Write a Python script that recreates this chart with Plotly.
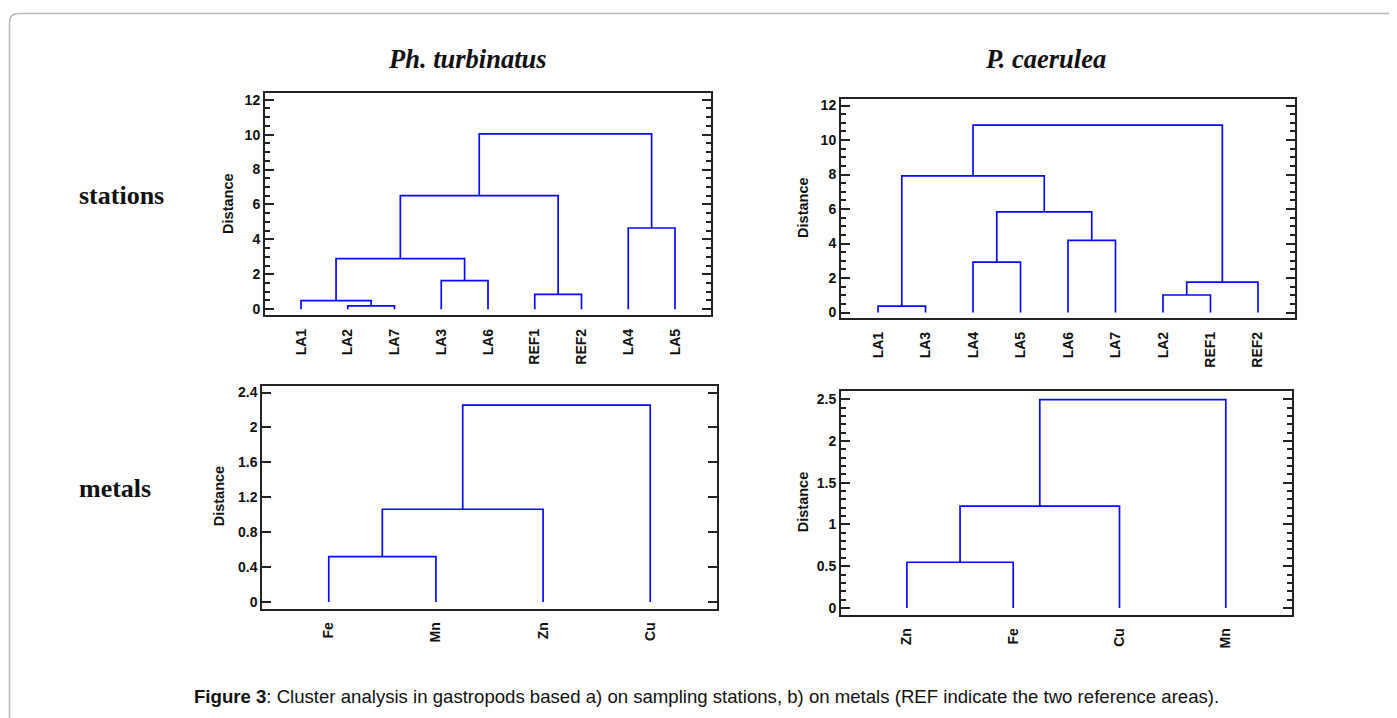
import plotly.graph_objects as go

W, H = 1397, 718
OFF = 8  # default page body margin of the html page

# ---------------- data ----------------
# Panel a) stations, Ph. turbinatus
st_turb_leaves = ["LA1", "LA2", "LA7", "LA3", "LA6", "REF1", "REF2", "LA4", "LA5"]
st_turb_left = ["LA2", "LA1", "LA3", "m1", "REF1", "m3", "LA4", "m5"]
st_turb_right = ["LA7", "m0", "LA6", "m2", "REF2", "m4", "LA5", "m6"]
st_turb_height = [0.19, 0.49, 1.63, 2.90, 0.85, 6.51, 4.65, 10.04]

# Panel a) stations, P. caerulea
st_caer_leaves = ["LA1", "LA3", "LA4", "LA5", "LA6", "LA7", "LA2", "REF1", "REF2"]
st_caer_left = ["LA1", "LA4", "LA6", "m1", "m0", "LA2", "m5", "m4"]
st_caer_right = ["LA3", "LA5", "LA7", "m2", "m3", "REF1", "REF2", "m6"]
st_caer_height = [0.38, 2.92, 4.19, 5.84, 7.93, 1.02, 1.77, 10.87]

# Panel b) metals, Ph. turbinatus
mt_turb_leaves = ["Fe", "Mn", "Zn", "Cu"]
mt_turb_left = ["Fe", "m0", "m1"]
mt_turb_right = ["Mn", "Zn", "Cu"]
mt_turb_height = [0.52, 1.063, 2.256]

# Panel b) metals, P. caerulea
mt_caer_leaves = ["Zn", "Fe", "Cu", "Mn"]
mt_caer_left = ["Zn", "m0", "m1"]
mt_caer_right = ["Fe", "Cu", "Mn"]
mt_caer_height = [0.547, 1.22, 2.496]

species = ["Ph. turbinatus", "P. caerulea"]
rows = ["stations", "metals"]
caption_bold = "Figure 3"
caption_rest = ": Cluster analysis in gastropods based a) on sampling stations, b) on metals (REF indicate the two reference areas)."


def dendro_xy(leaves, left, right, height):
    pos = {name: (float(i), 0.0) for i, name in enumerate(leaves)}
    xs, ys = [], []
    for k, (a, b, h) in enumerate(zip(left, right, height)):
        xa, ya = pos[a]
        xb, yb = pos[b]
        xs += [xa, xa, xb, xb, None]
        ys += [ya, h, h, yb, None]
        pos["m%d" % k] = ((xa + xb) / 2.0, h)
    return xs, ys


def px_x(p):
    return (p - OFF) / W


def px_y(p):
    return 1 - (p - OFF) / H


panels = [
    dict(leaves=st_turb_leaves, left=st_turb_left, right=st_turb_right, h=st_turb_height,
         box=(265, 711, 91.7, 315), yr=[-0.35, 12.37], dtick=2, minor=0.5,
         xr=[-0.77, 8.77], lab=(228, 203)),
    dict(leaves=st_caer_leaves, left=st_caer_left, right=st_caer_right, h=st_caer_height,
         box=(841, 1295, 97.7, 318), yr=[-0.33, 12.37], dtick=2, minor=0.5,
         xr=[-0.78, 8.78], lab=(803, 207)),
    dict(leaves=mt_turb_leaves, left=mt_turb_left, right=mt_turb_right, h=mt_turb_height,
         box=(262.3, 716.7, 385.7, 610), yr=[-0.076, 2.48], dtick=0.4, minor=None,
         xr=[-0.62, 3.62], lab=(219, 497)),
    dict(leaves=mt_caer_leaves, left=mt_caer_left, right=mt_caer_right, h=mt_caer_height,
         box=(841, 1291.7, 391, 616), yr=[-0.08, 2.6], dtick=0.5, minor=0.1,
         xr=[-0.62, 3.62], lab=(803, 503)),
]

fig = go.Figure()
sans = "Arial, Liberation Sans, sans-serif"
tickfont = dict(family=sans, size=14, color="#111", weight="bold")
frame = "#222"
annotations = []

for i, p in enumerate(panels, start=1):
    xs, ys = dendro_xy(p["leaves"], p["left"], p["right"], p["h"])
    xa = "x" if i == 1 else "x%d" % i
    ya = "y" if i == 1 else "y%d" % i
    fig.add_trace(go.Scatter(x=xs, y=ys, mode="lines", xaxis=xa, yaxis=ya,
                             line=dict(color="#0a0aff", width=1.7),
                             hoverinfo="skip", showlegend=False))
    x0, x1, y0, y1 = p["box"]
    xkey = "xaxis" if i == 1 else "xaxis%d" % i
    ykey = "yaxis" if i == 1 else "yaxis%d" % i
    fig.layout[xkey] = dict(
        domain=[px_x(x0), px_x(x1)], range=p["xr"], anchor=ya,
        tickmode="array", tickvals=list(range(len(p["leaves"]))), ticktext=p["leaves"],
        tickangle=-90, ticks="", showline=True, mirror=True, linecolor=frame, linewidth=2,
        showgrid=False, zeroline=False, tickfont=tickfont, ticklabelstandoff=6, fixedrange=True)
    yd = dict(
        domain=[px_y(y1), px_y(y0)], range=p["yr"], anchor=xa,
        tick0=0, dtick=p["dtick"], ticks="inside", ticklen=9, tickwidth=1.5, tickcolor=frame,
        showline=True, mirror="ticks", linecolor=frame, linewidth=2,
        showgrid=False, zeroline=False, tickfont=tickfont, fixedrange=True)
    if p["minor"]:
        yd["minor"] = dict(dtick=p["minor"], tick0=0, ticks="inside", ticklen=5,
                           tickwidth=1.5, tickcolor=frame, showgrid=False)
    fig.layout[ykey] = yd
    annotations.append(dict(x=px_x(p["lab"][0]), y=px_y(p["lab"][1]), xref="paper", yref="paper",
                            text="<b>Distance</b>", textangle=-90, showarrow=False,
                            font=dict(family=sans, size=14.5, color="#111"),
                            xanchor="center", yanchor="middle"))

serif = "Times New Roman, Liberation Serif, serif"
annotations.append(dict(x=px_x(467), y=px_y(57), xref="paper", yref="paper",
                        text="<b><i>%s</i></b>" % species[0], showarrow=False,
                        font=dict(family=serif, size=26.5, color="#111"), xanchor="center", yanchor="middle"))
annotations.append(dict(x=px_x(1045), y=px_y(57), xref="paper", yref="paper",
                        text="<b><i>%s</i></b>" % species[1], showarrow=False,
                        font=dict(family=serif, size=26.5, color="#111"), xanchor="center", yanchor="middle"))
annotations.append(dict(x=px_x(77), y=px_y(195), xref="paper", yref="paper",
                        text="<b>%s</b>" % rows[0], showarrow=False,
                        font=dict(family=serif, size=26, color="#111"), xanchor="left", yanchor="middle"))
annotations.append(dict(x=px_x(77), y=px_y(489), xref="paper", yref="paper",
                        text="<b>%s</b>" % rows[1], showarrow=False,
                        font=dict(family=serif, size=26, color="#111"), xanchor="left", yanchor="middle"))
annotations.append(dict(x=px_x(192), y=px_y(698), xref="paper", yref="paper",
                        text="<b>%s</b>%s" % (caption_bold, caption_rest), showarrow=False,
                        font=dict(family=sans, size=18.6, color="#111"),
                        xanchor="left", yanchor="middle"))

# rounded border (open at right and bottom)
r = 9
bx, by = 9.5, 11.5
path = "M %f,%f L %f,%f Q %f,%f %f,%f L %f,%f" % (
    px_x(bx), px_y(H + 20), px_x(bx), px_y(by + r), px_x(bx), px_y(by),
    px_x(bx + r), px_y(by), px_x(W + 20), px_y(by))
fig.add_shape(type="path", path=path, xref="paper", yref="paper",
              line=dict(color="#b8b8b8", width=1.5))

fig.update_layout(
    width=W, height=H, margin=dict(l=0, r=0, t=0, b=0),
    paper_bgcolor="white", plot_bgcolor="white",
    annotations=annotations, showlegend=False)

fig.write_html("out.html", config={"displayModeBar": False})
